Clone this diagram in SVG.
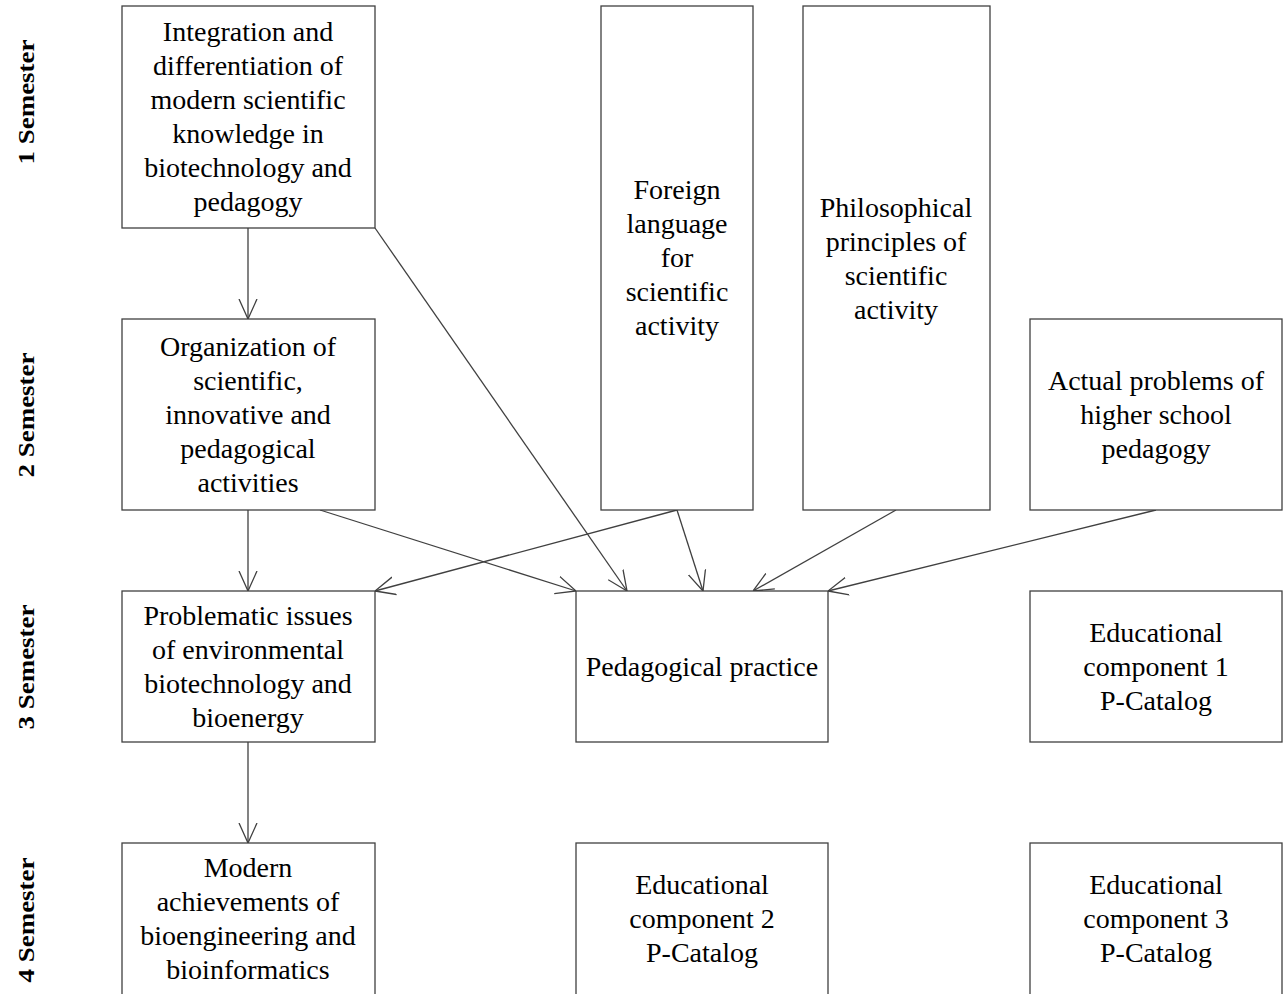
<svg xmlns="http://www.w3.org/2000/svg" width="1287" height="994" viewBox="0 0 1287 994">
<style>
.box{fill:#fff;stroke:#404040;stroke-width:1.3}
.t{font-family:"Liberation Serif","Times New Roman",serif;font-size:28px;fill:#000;text-anchor:middle}
.sem{font-family:"Liberation Serif","Times New Roman",serif;font-size:23px;font-weight:bold;fill:#000;text-anchor:middle}
.c{stroke:#404040;stroke-width:1.3;fill:none;marker-end:url(#ah)}
</style>
<defs>
<marker id="ah" viewBox="0 0 20 20" refX="20" refY="10" markerWidth="20" markerHeight="20" markerUnits="userSpaceOnUse" orient="auto">
<path d="M0,1 L20,10 L0,19" fill="none" stroke="#404040" stroke-width="1.3"/>
</marker>
</defs>
<rect width="1287" height="994" fill="#fff"/>
<g id="labels">
<text class="sem" transform="translate(34,102) rotate(-90)" textLength="125" lengthAdjust="spacingAndGlyphs">1 Semester</text>
<text class="sem" transform="translate(34,415) rotate(-90)" textLength="125" lengthAdjust="spacingAndGlyphs">2 Semester</text>
<text class="sem" transform="translate(34,667) rotate(-90)" textLength="125" lengthAdjust="spacingAndGlyphs">3 Semester</text>
<text class="sem" transform="translate(34,920) rotate(-90)" textLength="125" lengthAdjust="spacingAndGlyphs">4 Semester</text>
</g>
<g id="connectors">
<line class="c" x1="248" y1="228" x2="248" y2="319"/>
<line class="c" x1="375" y1="228" x2="627" y2="591"/>
<line class="c" x1="248" y1="510" x2="248" y2="591"/>
<line class="c" x1="320" y1="510" x2="576" y2="591"/>
<line class="c" x1="677" y1="510" x2="375" y2="591"/>
<line class="c" x1="677" y1="510" x2="703" y2="591"/>
<line class="c" x1="896" y1="510" x2="753" y2="591"/>
<line class="c" x1="1156" y1="510" x2="828" y2="591"/>
<line class="c" x1="248" y1="742" x2="248" y2="843"/>
</g>
<g id="n1">
<rect class="box" x="122" y="6" width="253" height="222"/>
<text class="t" x="248" y="41">Integration and</text>
<text class="t" x="248" y="75">differentiation of</text>
<text class="t" x="248" y="109">modern scientific</text>
<text class="t" x="248" y="143">knowledge in</text>
<text class="t" x="248" y="177">biotechnology and</text>
<text class="t" x="248" y="211">pedagogy</text>
</g>
<g id="n2">
<rect class="box" x="122" y="319" width="253" height="191"/>
<text class="t" x="248" y="356">Organization of</text>
<text class="t" x="248" y="390">scientific,</text>
<text class="t" x="248" y="424">innovative and</text>
<text class="t" x="248" y="458">pedagogical</text>
<text class="t" x="248" y="492">activities</text>
</g>
<g id="n3">
<rect class="box" x="122" y="591" width="253" height="151"/>
<text class="t" x="248" y="625">Problematic issues</text>
<text class="t" x="248" y="659">of environmental</text>
<text class="t" x="248" y="693">biotechnology and</text>
<text class="t" x="248" y="727">bioenergy</text>
</g>
<g id="n4">
<rect class="box" x="122" y="843" width="253" height="170"/>
<text class="t" x="248" y="877">Modern</text>
<text class="t" x="248" y="911">achievements of</text>
<text class="t" x="248" y="945">bioengineering and</text>
<text class="t" x="248" y="979">bioinformatics</text>
</g>
<g id="n5">
<rect class="box" x="601" y="6" width="152" height="504"/>
<text class="t" x="677" y="199">Foreign</text>
<text class="t" x="677" y="233">language</text>
<text class="t" x="677" y="267">for</text>
<text class="t" x="677" y="301">scientific</text>
<text class="t" x="677" y="335">activity</text>
</g>
<g id="n6">
<rect class="box" x="803" y="6" width="187" height="504"/>
<text class="t" x="896" y="217">Philosophical</text>
<text class="t" x="896" y="251">principles of</text>
<text class="t" x="896" y="285">scientific</text>
<text class="t" x="896" y="319">activity</text>
</g>
<g id="n7">
<rect class="box" x="1030" y="319" width="252" height="191"/>
<text class="t" x="1156" y="390">Actual problems of</text>
<text class="t" x="1156" y="424">higher school</text>
<text class="t" x="1156" y="458">pedagogy</text>
</g>
<g id="n8">
<rect class="box" x="576" y="591" width="252" height="151"/>
<text class="t" x="702" y="676">Pedagogical practice</text>
</g>
<g id="n9">
<rect class="box" x="1030" y="591" width="252" height="151"/>
<text class="t" x="1156" y="642">Educational</text>
<text class="t" x="1156" y="676">component 1</text>
<text class="t" x="1156" y="710">P-Catalog</text>
</g>
<g id="n10">
<rect class="box" x="576" y="843" width="252" height="170"/>
<text class="t" x="702" y="894">Educational</text>
<text class="t" x="702" y="928">component 2</text>
<text class="t" x="702" y="962">P-Catalog</text>
</g>
<g id="n11">
<rect class="box" x="1030" y="843" width="252" height="170"/>
<text class="t" x="1156" y="894">Educational</text>
<text class="t" x="1156" y="928">component 3</text>
<text class="t" x="1156" y="962">P-Catalog</text>
</g>
</svg>
